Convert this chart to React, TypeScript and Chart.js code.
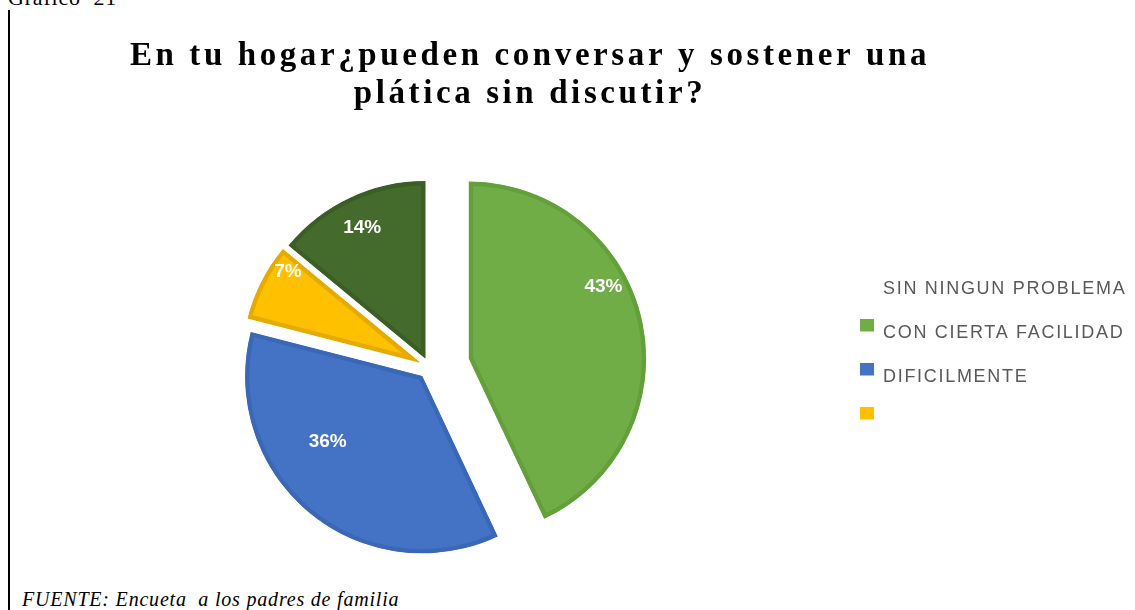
import React, { useEffect, useRef } from "react";
import { Chart, registerables } from "chart.js";

Chart.register(...registerables);

// ---- data (clockwise from 12 o'clock) ----
const CATEGORIES = ["CON CIERTA FACILIDAD", "DIFICILMENTE", "", "SIN NINGUN PROBLEMA"];
const VALUES = [43, 36, 7, 14];
const TITLE_LINES = ["En tu hogar¿pueden conversar y sostener una", "plática sin discutir?"];
const SOURCE_TEXT = "FUENTE: Encueta  a los padres de familia";
const FIGURE_LABEL = "Gráfico  21";

// ---- styles ----
const FILLS = ["#70AD47", "#4472C4", "#FFC000", "#446A2C"];
const BORDERS = ["#63A03B", "#3B67B7", "#E6AB00", "#3B5E26"];
const EXPLODE = [40.6, 11.6, 11.7, 10.3];
const LABEL_ANGLE_FRAC = [0.4, 0.62, 0.8, 0.49];
const LABEL_RADIUS_FRAC = [0.86, 0.65, 0.9, 0.82];
const LEGEND_ORDER = [3, 0, 1, 2];
const LEGEND_SHOW_BOX = [false, true, true, true];
const TITLE_SPACING = "3.6px";
const LEGEND_SPACING = "1.7px";

function makeMarker(color: string | null): HTMLCanvasElement {
  const c = document.createElement("canvas");
  c.width = 14;
  c.height = 30;
  const g = c.getContext("2d");
  if (g && color) {
    g.fillStyle = color;
    g.fillRect(0, 0, 14, 13);
  }
  return c;
}

const explodePlugin = {
  id: "explodeSlices",
  afterDatasetsUpdate(chart: any) {
    const meta = chart.getDatasetMeta(0);
    meta.data.forEach((arc: any, i: number) => {
      const mid = (arc.startAngle + arc.endAngle) / 2;
      const d = EXPLODE[i] || 0;
      arc.x += Math.cos(mid) * d;
      arc.y += Math.sin(mid) * d;
    });
  },
};

const spacingPlugin = {
  id: "letterSpacingBoxes",
  afterLayout(chart: any) {
    const wrap = (box: any, sp: string, widenClip: boolean) => {
      if (!box || box.__wrapped) return;
      const orig = box.draw;
      box.draw = function (...args: any[]) {
        const ctx = this.ctx;
        const right = this.right;
        if (widenClip) this.right = chart.width;
        ctx.letterSpacing = sp;
        orig.apply(this, args);
        ctx.letterSpacing = "0px";
        this.right = right;
      };
      box.__wrapped = true;
    };
    wrap(chart.legend, LEGEND_SPACING, true);
    wrap(chart.titleBlock, TITLE_SPACING, false);
  },
};

const labelPlugin = {
  id: "sliceLabels",
  afterDatasetsDraw(chart: any) {
    const ctx = chart.ctx;
    const meta = chart.getDatasetMeta(0);
    const data = chart.data.datasets[0].data as number[];
    ctx.save();
    ctx.letterSpacing = "0px";
    ctx.font = "bold 19px 'Liberation Sans', Arial, sans-serif";
    ctx.fillStyle = "#FFFFFF";
    ctx.textAlign = "center";
    ctx.textBaseline = "middle";
    meta.data.forEach((arc: any, i: number) => {
      const a = arc.startAngle + (arc.endAngle - arc.startAngle) * LABEL_ANGLE_FRAC[i];
      const r = arc.outerRadius * LABEL_RADIUS_FRAC[i];
      ctx.fillText(`${data[i]}%`, arc.x + Math.cos(a) * r, arc.y + Math.sin(a) * r);
    });
    ctx.restore();
  },
};

export default function App() {
  const canvasRef = useRef<HTMLCanvasElement | null>(null);

  useEffect(() => {
    if (!canvasRef.current) return;
    const markers = LEGEND_ORDER.map((idx, row) =>
      makeMarker(LEGEND_SHOW_BOX[row] ? FILLS[idx] : null)
    );
    const chart = new Chart(canvasRef.current, {
      type: "pie",
      data: {
        labels: CATEGORIES,
        datasets: [
          {
            data: VALUES,
            backgroundColor: FILLS,
            borderColor: BORDERS,
            borderWidth: 4,
            borderAlign: "inner",
            borderJoinStyle: "miter",
          } as any,
        ],
      },
      options: {
        animation: false,
        responsive: false,
        radius: 177,
        layout: { padding: { left: 25, right: 100, top: 0, bottom: 10 } },
        plugins: {
          tooltip: { enabled: false },
          title: {
            display: true,
            text: TITLE_LINES,
            color: "#000000",
            font: {
              family: "'Liberation Serif', 'Times New Roman', serif",
              size: 33,
              weight: "bold",
              lineHeight: 1.16,
            },
            padding: { top: 37, bottom: 21.3 },
          },
          legend: {
            display: true,
            position: "right",
            align: "start",
            maxWidth: 201,
            title: {
              display: true,
              text: "",
              font: { size: 10, lineHeight: 1 },
              padding: { top: 244.5, bottom: 0 },
            },
            labels: {
              usePointStyle: true,
              pointStyleWidth: 14,
              boxHeight: 13,
              padding: 26,
              color: "#595959",
              font: { family: "'Liberation Sans', Arial, sans-serif", size: 18 },
              generateLabels: () =>
                LEGEND_ORDER.map((idx, row) => ({
                  text: CATEGORIES[idx],
                  fillStyle: FILLS[idx],
                  strokeStyle: "transparent",
                  lineWidth: 0,
                  hidden: false,
                  index: idx,
                  fontColor: "#595959",
                  pointStyle: markers[row],
                })) as any,
            },
          },
        },
      } as any,
      plugins: [explodePlugin, spacingPlugin, labelPlugin],
    });
    return () => chart.destroy();
  }, []);

  return (
    <div
      style={{
        position: "absolute",
        left: 0,
        top: 0,
        width: 1135,
        height: 610,
        overflow: "hidden",
        background: "#FFFFFF",
      }}
    >
      <div
        style={{
          position: "absolute",
          left: 8,
          top: -13,
          fontFamily: "'Liberation Serif', 'Times New Roman', serif",
          fontSize: 22,
          lineHeight: "22px",
          letterSpacing: "0.8px",
          whiteSpace: "pre",
          color: "#000",
        }}
      >
        {FIGURE_LABEL}
      </div>
      <div
        style={{
          position: "absolute",
          left: 8,
          top: 10,
          width: 2,
          height: 600,
          background: "#000",
        }}
      />
      <div
        style={{
          position: "absolute",
          left: 22,
          top: 589,
          fontFamily: "'Liberation Serif', 'Times New Roman', serif",
          fontStyle: "italic",
          fontSize: 20,
          lineHeight: "20px",
          letterSpacing: "0.8px",
          whiteSpace: "pre",
          color: "#000",
        }}
      >
        {SOURCE_TEXT}
      </div>
      <canvas
        ref={canvasRef}
        width={1135}
        height={610}
        style={{ position: "absolute", left: 0, top: 0, width: 1135, height: 610 }}
      />
    </div>
  );
}
